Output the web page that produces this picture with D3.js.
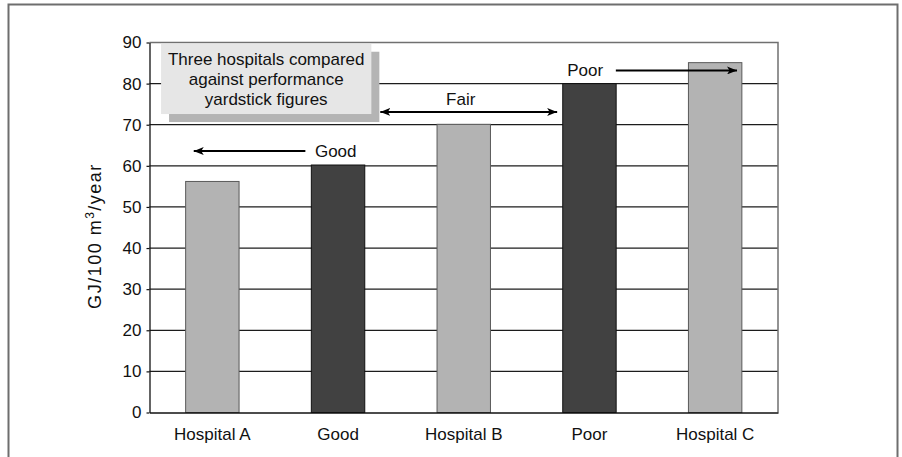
<!DOCTYPE html>
<html>
<head>
<meta charset="utf-8">
<script src="https://cdn.jsdelivr.net/npm/d3@7"></script>
<style>
  body { margin: 0; background: #fff; }
  text { font-family: "Liberation Sans", Arial, Helvetica, sans-serif; fill: #111; }
</style>
</head>
<body>
<div id="chart"></div>
<script>
// data
const categories = ["Hospital A", "Good", "Hospital B", "Poor", "Hospital C"];
const values = [56.2, 60.2, 70.1, 80, 85.1];
const isYardstick = [false, true, false, true, false];
const yTicks = [0, 10, 20, 30, 40, 50, 60, 70, 80, 90];

// annotation arrows: x in category-slot units (0..5), y in GJ
const arrowLabels = ["Good", "Fair", "Poor"];
const arrowLevels = [63.6, 73.1, 83.2];
const arrowFrom = [1.24, 1.836, 3.71];
const arrowTo = [0.352, 3.243, 4.674];
const noteLines = ["Three hospitals compared", "against performance", "yardstick figures"];

var width = 902,
  height = 457

var plotLeft = 149.5, plotRight = 778, plotTop = 42.5, plotBottom = 412.5

var svg = d3.select("#chart")
  .append("svg")
  .attr("width", width)
  .attr("height", height)

// outer frame (open at the bottom, runs off the page)
svg.append("rect")
  .attr("x", 8.5).attr("y", 4.5)
  .attr("width", 889).attr("height", 480)
  .attr("fill", "none")
  .attr("stroke", "#6e6e6e")
  .attr("stroke-width", 2)

var x = d3.scaleBand()
  .domain(categories)
  .range([plotLeft, plotRight])
  .paddingInner(0.575)
  .paddingOuter(0.2875)

var slot = d3.scaleLinear().domain([0, 5]).range([plotLeft, plotRight])

var y = d3.scaleLinear()
  .domain([0, 90])
  .range([plotBottom, plotTop])

// gridlines behind the bars
svg.append("g")
  .selectAll("line")
  .data(yTicks.filter(d => d > 0 && d < 90))
  .enter()
  .append("line")
  .attr("x1", plotLeft).attr("x2", plotRight)
  .attr("y1", d => y(d)).attr("y2", d => y(d))
  .attr("stroke", "#1c1c1c")
  .attr("stroke-width", 1.2)

// top and right edge of plot
svg.append("path")
  .attr("d", "M" + plotLeft + "," + plotTop + "H" + plotRight + "V" + plotBottom)
  .attr("fill", "none")
  .attr("stroke", "#707070")
  .attr("stroke-width", 1.5)

// note box with its shadow
var boxX0 = slot(0.092), boxX1 = slot(1.765), boxY0 = y(89.7), boxY1 = y(72.6)
svg.append("rect")
  .attr("x", boxX0 + 8).attr("y", boxY0 + 8)
  .attr("width", boxX1 - boxX0).attr("height", boxY1 - boxY0)
  .attr("fill", "#b4b4b4")
svg.append("rect")
  .attr("x", boxX0).attr("y", boxY0)
  .attr("width", boxX1 - boxX0).attr("height", boxY1 - boxY0)
  .attr("fill", "#e6e6e6")
svg.append("g")
  .selectAll("text")
  .data(noteLines)
  .enter()
  .append("text")
  .attr("x", (boxX0 + boxX1) / 2)
  .attr("y", (d, i) => boxY0 + 21 + i * 20)
  .attr("text-anchor", "middle")
  .style("font-size", "17px")
  .text(d => d)

// bars
svg.append("g")
  .selectAll("rect")
  .data(categories)
  .enter()
  .append("rect")
  .attr("x", d => x(d))
  .attr("width", x.bandwidth())
  .attr("y", (d, i) => y(values[i]))
  .attr("height", (d, i) => y(0) - y(values[i]))
  .attr("fill", (d, i) => isYardstick[i] ? "#414141" : "#b3b3b3")
  .attr("stroke", (d, i) => isYardstick[i] ? "#111" : "#5a5a5a")
  .attr("stroke-width", 1)

// axes
var yAxis = svg.append("g")
  .attr("transform", "translate(" + plotLeft + ",0)")
  .call(d3.axisLeft(y).tickValues(yTicks).tickSize(3).tickPadding(5).tickSizeOuter(0))
yAxis.select(".domain").attr("stroke", "#111").attr("stroke-width", 1.3)
yAxis.selectAll(".tick line").attr("stroke", "#111").attr("stroke-width", 1.2)
yAxis.selectAll("text").style("font-size", "17px").attr("fill", "#111")

var xAxis = svg.append("g")
  .attr("transform", "translate(0," + plotBottom + ")")
  .call(d3.axisBottom(x).tickSize(0).tickPadding(15))
xAxis.select(".domain").attr("stroke", "#111").attr("stroke-width", 1.6)
xAxis.selectAll("text").style("font-size", "17px").attr("fill", "#111")

// y axis title
var yTitle = svg.append("text")
  .attr("transform", "translate(101,236) rotate(-90)")
  .attr("text-anchor", "middle")
  .style("font-size", "18px")
  .style("letter-spacing", "1.5px")
yTitle.append("tspan").text("GJ/100 m")
yTitle.append("tspan").text("3").style("font-size", "12px").attr("dy", -7)
yTitle.append("tspan").text("/year").attr("dy", 7)

// arrows
var defs = svg.append("defs")
defs.append("marker")
  .attr("id", "head")
  .attr("viewBox", "0 0 10 8")
  .attr("refX", 10).attr("refY", 4)
  .attr("markerWidth", 10).attr("markerHeight", 8)
  .attr("markerUnits", "userSpaceOnUse")
  .attr("orient", "auto-start-reverse")
  .append("path")
  .attr("d", "M0,0L10,4L0,8L2.5,4Z")
  .attr("fill", "#000")

var arrows = svg.append("g")
arrowLabels.forEach((lab, i) => {
  var line = arrows.append("line")
    .attr("x1", slot(arrowFrom[i])).attr("x2", slot(arrowTo[i]))
    .attr("y1", y(arrowLevels[i])).attr("y2", y(arrowLevels[i]))
    .attr("stroke", "#000")
    .attr("stroke-width", 2)
    .attr("marker-end", "url(#head)")
  if (lab == "Fair") line.attr("marker-start", "url(#head)")
})

// arrow labels
arrows.append("text")
  .attr("x", slot(1.316)).attr("y", y(arrowLevels[0])).attr("dy", "0.35em")
  .style("font-size", "17px").text(arrowLabels[0])
arrows.append("text")
  .attr("x", slot(2.476)).attr("y", y(arrowLevels[1]) - 7)
  .attr("text-anchor", "middle")
  .style("font-size", "17px").text(arrowLabels[1])
arrows.append("text")
  .attr("x", slot(3.609)).attr("y", y(arrowLevels[2])).attr("dy", "0.35em")
  .attr("text-anchor", "end")
  .style("font-size", "17px").text(arrowLabels[2])
</script>
</body>
</html>
